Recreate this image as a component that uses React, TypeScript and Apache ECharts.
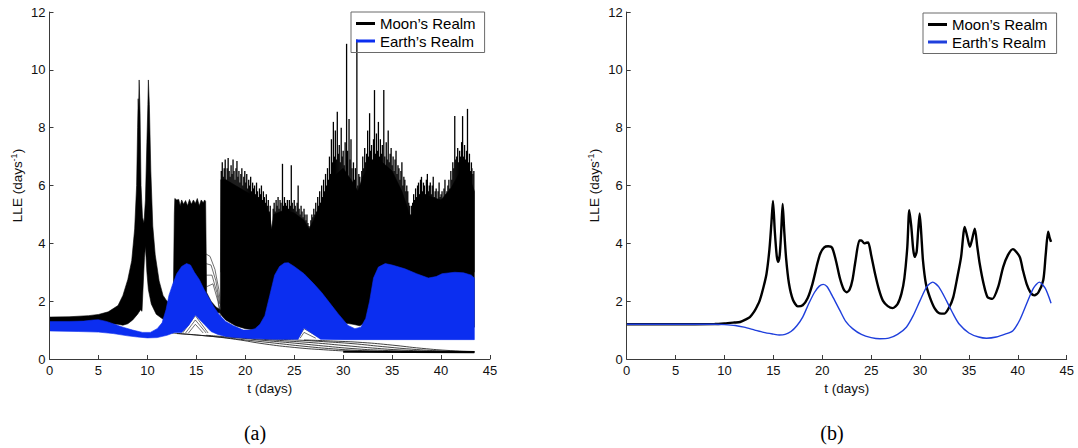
import React, { useEffect, useRef } from "react";
import * as echarts from "echarts";

// ---------- tick labels ----------
const xTicks = [0, 5, 10, 15, 20, 25, 30, 35, 40, 45];
const yTicks = [0, 2, 4, 6, 8, 10, 12];
const MOON = "Moon’s Realm";
const EARTH = "Earth’s Realm";

// ---------- panel (a): Moon's realm envelope of the bundle ----------
const moonUpperA: number[][] = [
  [0, 1.45], [2, 1.46], [4, 1.5], [5, 1.54], [6, 1.63], [7, 1.85], [7.5, 2.2], [8, 2.75], [8.4, 3.4], [8.7, 4.5],
  [8.9, 6.0], [9.0, 8.0], [9.06, 9.0], [9.1, 8.6], [9.16, 9.65], [9.25, 8.5], [9.35, 6.0], [9.5, 4.9], [9.65, 4.7],
  [9.8, 5.5], [9.95, 7.5], [10.05, 8.8], [10.1, 9.65], [10.2, 8.8], [10.35, 6.5], [10.55, 4.6], [10.8, 3.6],
  [11.2, 2.7], [11.6, 2.2], [12.0, 2.0], [12.4, 1.95], [12.65, 2.1], [12.75, 5.0], [12.8, 5.55], [13.0, 5.5],
  [13.2, 5.52], [13.35, 5.3], [13.5, 5.5], [13.7, 5.35], [13.9, 5.48], [14.1, 5.3], [14.3, 5.52], [14.5, 5.35],
  [14.7, 5.5], [14.9, 5.38], [15.1, 5.55], [15.3, 5.3], [15.5, 5.5], [15.7, 5.4], [15.85, 5.5], [15.95, 5.45],
  [16.05, 2.3], [16.5, 2.0], [17.0, 1.8], [17.45, 1.7], [17.5, 6.2], [18, 6.2], [19, 6.0], [20, 5.8], [21, 5.6],
  [22, 5.3], [22.5, 5.0], [22.7, 4.5], [22.9, 5.0], [24, 5.15], [25, 5.05], [26, 4.8], [26.5, 4.5], [27, 4.8],
  [28, 5.6], [29, 6.3], [30, 6.6], [31, 6.1], [31.5, 5.8], [32, 6.3], [33, 6.8], [34, 6.8], [35, 6.5], [36, 5.8],
  [36.9, 4.9], [37.2, 5.1], [38, 5.7], [39, 5.6], [40, 5.5], [41, 5.9], [42, 6.5], [43, 6.2], [43.4, 5.8],
];
const moonLowerA: number[][] = [
  [0, 1.2], [5, 1.22], [7, 1.2], [7.5, 1.17], [8, 1.22], [8.5, 1.35], [9.0, 1.55], [9.3, 1.7], [9.45, 1.65],
  [9.55, 2.4], [9.7, 3.5], [9.8, 3.9], [9.95, 3.0], [10.1, 2.4], [10.4, 1.9], [10.9, 1.55], [11.5, 1.4],
  [12, 1.3], [12.5, 1.2], [13.0, 1.2], [13.5, 1.5], [15.5, 1.6], [17.4, 1.6], [17.6, 1.5], [18, 1.35],
  [19, 1.15], [20, 1.05], [21, 1.0], [23, 1.0], [26, 1.1], [28, 1.3], [29, 1.35], [30, 1.25], [31, 1.2],
  [31.7, 1.15], [32.5, 1.3], [33.5, 1.2], [36, 1.1], [40, 1.1], [43.4, 1.1],
];
// single trajectories that shoot above the bundle: [t, peak LLE]
const moonSpikesA: number[][] = [
  [17.55, 6.5], [17.65, 6.8], [17.75, 6.3], [17.85, 6.6], [17.95, 6.9], [18.05, 6.2], [18.15, 6.6], [18.25, 6.95],
  [18.35, 6.5], [18.45, 6.3], [18.55, 6.7], [18.65, 6.4], [18.75, 6.9], [18.85, 6.5], [18.95, 6.2], [19.05, 6.6],
  [19.15, 6.85], [19.25, 6.3], [19.35, 6.5], [19.45, 6.1], [19.55, 6.4], [19.65, 6.6], [19.75, 6.0], [19.85, 6.3],
  [19.95, 6.5], [20.05, 6.1], [20.15, 6.4], [20.25, 5.9], [20.35, 6.2], [20.45, 6.0], [20.55, 6.3], [20.65, 5.8],
  [20.75, 6.1], [20.85, 5.9], [20.95, 6.0], [21.05, 5.7], [21.15, 6.1], [21.25, 5.8], [21.35, 5.6], [21.45, 5.9],
  [21.55, 5.7], [21.65, 6.0], [21.75, 5.5], [21.85, 5.8], [21.95, 5.6], [22.05, 5.4], [22.15, 5.7], [22.25, 5.3],
  [22.35, 5.5], [22.45, 5.1], [22.55, 5.3],
  [22.85, 5.2], [22.95, 5.4], [23.05, 5.1], [23.15, 5.5], [23.25, 5.3], [23.35, 5.6], [23.45, 5.2], [23.55, 5.5],
  [23.65, 5.4], [23.8, 6.75], [23.9, 5.3], [24.0, 5.6], [24.1, 5.4], [24.2, 5.3], [24.3, 5.5], [24.4, 5.2],
  [24.5, 5.5], [24.6, 5.3], [24.7, 6.7], [24.8, 5.4], [24.9, 5.2], [25.0, 5.5], [25.1, 5.3], [25.2, 5.1],
  [25.3, 5.4], [25.4, 6.0], [25.5, 5.2], [25.6, 5.0], [25.7, 5.3], [25.8, 5.1], [25.9, 4.9], [26.0, 5.2],
  [26.1, 5.0], [26.2, 4.8], [26.3, 5.0], [26.4, 4.7], [26.5, 4.6],
  [26.7, 4.8], [26.8, 5.0], [26.9, 4.9], [27.0, 5.2], [27.1, 5.0], [27.2, 5.4], [27.3, 5.1], [27.4, 5.6],
  [27.5, 5.3], [27.6, 5.8], [27.7, 5.4], [27.8, 6.0], [27.9, 5.6], [28.0, 6.2], [28.1, 5.8], [28.2, 6.4],
  [28.3, 6.0], [28.4, 6.6], [28.5, 6.2], [28.6, 7.0], [28.7, 6.4], [28.8, 7.6], [28.9, 6.8], [29.0, 8.2],
  [29.1, 7.0], [29.2, 7.9], [29.3, 6.9], [29.4, 8.55], [29.5, 7.1], [29.6, 7.4], [29.7, 6.8], [29.8, 8.0],
  [29.9, 7.0], [30.0, 7.2], [30.1, 6.7], [30.2, 7.5], [30.35, 10.9], [30.45, 7.2], [30.6, 8.3], [30.7, 6.9],
  [30.8, 7.6], [30.9, 6.6], [31.05, 6.8], [31.15, 6.2], [31.25, 6.6], [31.4, 11.05], [31.5, 6.0], [31.6, 6.4],
  [31.7, 6.3], [31.8, 5.9], [31.9, 6.5], [32.0, 7.0], [32.1, 6.6], [32.2, 7.3], [32.3, 6.8], [32.4, 7.1],
  [32.5, 7.9], [32.6, 7.0], [32.7, 8.5], [32.8, 7.2], [32.9, 7.4], [33.0, 6.9], [33.1, 7.6], [33.2, 9.3],
  [33.3, 7.1], [33.4, 7.8], [33.5, 7.2], [33.6, 8.2], [33.7, 7.0], [33.8, 7.6], [33.9, 7.1], [34.0, 7.4],
  [34.15, 9.3], [34.25, 7.0], [34.4, 7.5], [34.5, 6.9], [34.6, 7.9], [34.7, 6.8], [34.8, 7.1], [34.9, 7.3],
  [35.0, 6.7], [35.1, 7.0], [35.2, 6.5], [35.3, 6.9], [35.4, 7.2], [35.5, 6.4], [35.6, 6.7], [35.7, 6.6],
  [35.8, 6.2], [35.9, 6.5], [36.0, 6.8], [36.1, 6.0], [36.2, 6.3], [36.3, 6.2], [36.4, 5.8], [36.5, 6.0],
  [36.6, 5.8], [36.7, 5.4], [36.8, 5.3], [36.9, 5.0],
  [37.0, 5.3], [37.1, 5.4], [37.2, 5.7], [37.3, 5.5], [37.4, 5.9], [37.5, 5.6], [37.6, 6.0], [37.7, 6.1],
  [37.8, 5.7], [37.9, 6.2], [38.0, 6.3], [38.1, 5.8], [38.2, 6.1], [38.3, 6.0], [38.4, 5.7], [38.5, 6.2],
  [38.6, 6.4], [38.7, 5.8], [38.8, 6.0], [38.9, 6.1], [39.0, 5.7], [39.1, 6.0], [39.2, 6.3], [39.3, 5.6],
  [39.4, 5.8], [39.5, 5.9], [39.6, 5.5], [39.7, 5.8], [39.8, 6.1], [39.9, 5.6], [40.0, 5.7], [40.1, 5.8],
  [40.2, 5.4], [40.3, 5.9], [40.4, 6.2], [40.5, 5.7], [40.6, 5.8], [40.7, 6.0], [40.8, 6.2], [40.9, 5.9],
  [41.0, 6.5], [41.1, 6.2], [41.2, 6.8], [41.3, 6.6], [41.4, 8.4], [41.5, 6.9], [41.6, 7.0], [41.7, 7.3],
  [41.8, 6.8], [41.9, 7.2], [42.0, 7.0], [42.1, 7.5], [42.2, 8.4], [42.3, 7.0], [42.4, 7.4], [42.5, 6.9],
  [42.6, 7.2], [42.7, 8.65], [42.8, 6.8], [42.9, 7.1], [43.0, 6.5], [43.1, 6.8], [43.15, 6.6], [43.25, 6.4],
  [43.35, 6.5],
];
// decaying trajectories at the bottom
const tailA1 = [[12.5, 0.9], [16, 0.8], [19, 0.68], [22, 0.52], [25, 0.4], [28, 0.32], [31, 0.27], [35, 0.25], [43.4, 0.24]];
const tailA2 = [[13, 0.88], [17, 0.77], [20, 0.66], [23, 0.55], [26, 0.44], [29, 0.35], [32, 0.29], [36, 0.25], [43.4, 0.24]];
const tailA3 = [[16, 0.82], [19, 0.74], [22, 0.64], [25, 0.55], [28, 0.45], [31, 0.36], [34, 0.3], [38, 0.26], [43.4, 0.24]];
const tailA4 = [[18, 0.78], [21, 0.7], [24, 0.63], [27, 0.56], [30, 0.47], [33, 0.38], [36, 0.31], [40, 0.26], [43.4, 0.24]];
const tailA5 = [[22, 0.7], [25, 0.66], [28, 0.6], [31, 0.53], [34, 0.43], [37, 0.34], [40, 0.28], [43.4, 0.25]];
const tailA6 = [[26, 0.66], [29, 0.62], [32, 0.57], [35, 0.48], [38, 0.37], [41, 0.29], [43.4, 0.26]];
const tailA7 = [[30, 0.25], [43.4, 0.235]];
// mesh of thin trajectories (dome near t=16.5, tents near t=15 and t=26)
const meshA1 = [[15.9, 3.65], [16.4, 3.55], [16.9, 3.1], [17.3, 2.4], [17.5, 1.8]];
const meshA2 = [[15.95, 3.3], [16.5, 3.25], [17.0, 2.7], [17.4, 1.9]];
const meshA3 = [[16.0, 2.9], [16.6, 2.9], [17.1, 2.3], [17.45, 1.6]];
const meshA4 = [[16.05, 2.5], [16.7, 2.6], [17.2, 2.0], [17.5, 1.4]];
const meshA5 = [[13.6, 0.9], [14.9, 1.5], [16.2, 0.9]];
const meshA6 = [[13.9, 0.9], [14.9, 1.35], [16.0, 0.9]];
const meshA7 = [[14.2, 0.9], [14.9, 1.2], [15.7, 0.9]];
const meshA8 = [[25.4, 0.72], [26.0, 1.05], [27.7, 0.72]];
const meshA9 = [[25.6, 0.72], [26.0, 0.92], [27.2, 0.72]];

// ---------- panel (a): Earth's realm envelope ----------
const earthUpperA: number[][] = [
  [0, 1.3], [2, 1.3], [3.5, 1.31], [4.5, 1.35], [5, 1.36], [5.8, 1.3], [6.5, 1.22], [7.5, 1.1], [8.5, 1.0],
  [9.5, 0.92], [10.3, 0.92], [11, 1.05], [11.5, 1.25], [11.9, 1.7], [12.2, 2.2], [12.6, 2.6], [13.0, 2.95],
  [13.5, 3.2], [14.0, 3.3], [14.4, 3.25], [14.8, 3.0], [15.3, 2.75], [15.8, 2.4], [16.3, 2.1], [16.8, 1.8],
  [17.3, 1.55], [18, 1.3], [18.8, 1.15], [19.8, 1.0], [20.5, 1.0], [21, 1.05], [21.5, 1.2], [22, 1.5],
  [22.5, 2.2], [23, 2.9], [23.5, 3.2], [24, 3.32], [24.4, 3.33], [25, 3.2], [26, 2.95], [27, 2.6], [27.8, 2.3],
  [28.6, 1.95], [29.5, 1.56], [30.5, 1.16], [31.2, 1.05], [31.8, 1.1], [32.3, 1.4], [32.7, 2.0], [33.1, 2.8],
  [33.6, 3.18], [34.3, 3.3], [35, 3.25], [36.3, 3.12], [37.5, 2.95], [38.7, 2.8], [39.5, 2.85], [40.1, 2.95],
  [41.4, 3.0], [42.3, 2.98], [43.1, 2.9], [43.4, 2.8],
];
const earthLowerA: number[][] = [
  [0, 0.97], [3, 0.95], [5, 0.93], [6.5, 0.88], [8, 0.8], [9, 0.76], [10, 0.73], [11, 0.74], [12, 0.82],
  [12.8, 0.92], [13.5, 0.92], [14.2, 1.15], [14.9, 1.52], [15.8, 1.2], [16.5, 0.95], [17.2, 0.85], [18, 0.78],
  [19, 0.74], [20, 0.72], [21, 0.7], [23, 0.68], [25.4, 0.68], [26.0, 1.07], [27.7, 0.68], [30, 0.67],
  [35, 0.67], [40, 0.67], [43.4, 0.67],
];

// ---------- panel (b) ----------
const moonB: number[][] = [
  [0, 1.2], [5, 1.2], [9, 1.21], [10, 1.23], [11, 1.26], [11.6, 1.28], [12.2, 1.37], [12.6, 1.45], [13.0, 1.62],
  [13.3, 1.8], [13.6, 2.02], [14.0, 2.5], [14.3, 2.95], [14.6, 3.8], [14.8, 4.7], [14.96, 5.47], [15.15, 4.4],
  [15.35, 3.55], [15.5, 3.36], [15.65, 3.6], [15.8, 4.4], [15.95, 5.36], [16.1, 4.5], [16.3, 3.5], [16.6, 2.6],
  [17.0, 2.05], [17.5, 1.82], [18.0, 1.86], [18.5, 2.1], [19.0, 2.6], [19.5, 3.3], [19.8, 3.65], [20.2, 3.86],
  [20.6, 3.9], [21.0, 3.85], [21.4, 3.4], [21.8, 2.8], [22.2, 2.4], [22.5, 2.31], [22.8, 2.4], [23.1, 2.75],
  [23.4, 3.4], [23.8, 4.1], [24.0, 4.1], [24.3, 4.0], [24.5, 4.02], [24.7, 4.03], [25.0, 3.6], [25.4, 2.95],
  [25.8, 2.4], [26.2, 2.02], [26.7, 1.83], [27.2, 1.76], [27.7, 1.9], [28.1, 2.26], [28.4, 2.8], [28.7, 3.88],
  [28.9, 5.15], [29.1, 4.6], [29.3, 3.8], [29.45, 3.53], [29.65, 3.7], [29.8, 4.4], [29.96, 5.03], [30.15, 4.2],
  [30.3, 3.41], [30.6, 2.6], [31.0, 2.14], [31.5, 1.75], [32.0, 1.58], [32.5, 1.57], [33.0, 1.8], [33.4, 2.14],
  [33.8, 2.8], [34.2, 3.53], [34.57, 4.57], [34.85, 4.2], [35.1, 3.88], [35.3, 4.1], [35.6, 4.51], [35.85, 3.9],
  [36.1, 3.3], [36.5, 2.6], [36.9, 2.14], [37.4, 2.08], [38.0, 2.5], [38.5, 3.18], [39.0, 3.6], [39.5, 3.8],
  [40.2, 3.53], [40.5, 3.1], [40.9, 2.6], [41.3, 2.3], [41.7, 2.2], [42.1, 2.3], [42.6, 2.72], [42.85, 3.6],
  [43.1, 4.4], [43.25, 4.2], [43.4, 4.05],
];
const earthB: number[][] = [
  [0, 1.2], [5, 1.2], [9, 1.2], [10, 1.19], [11.1, 1.16], [12, 1.1], [13.1, 1.0], [14, 0.92], [15, 0.86],
  [15.6, 0.83], [16.2, 0.85], [16.8, 0.95], [17.4, 1.15], [18, 1.45], [18.6, 1.9], [19.2, 2.3], [19.7, 2.52],
  [20.1, 2.58], [20.5, 2.5], [21.0, 2.2], [21.8, 1.68], [22.4, 1.3], [23.1, 1.05], [24, 0.85], [25, 0.74],
  [25.9, 0.7], [26.8, 0.72], [27.7, 0.85], [28.6, 1.1], [29.3, 1.5], [30.0, 2.02], [30.7, 2.5], [31.3, 2.66],
  [31.9, 2.5], [32.7, 2.02], [33.4, 1.55], [34.0, 1.21], [35, 0.9], [36, 0.76], [36.8, 0.72], [37.8, 0.76],
  [38.7, 0.86], [39.5, 0.98], [40.2, 1.35], [40.9, 1.91], [41.6, 2.45], [42.2, 2.66], [42.8, 2.45], [43.4, 1.93],
];

const BLACK = "#000000";
const BLUE_A = "#0b2ef0";
const BLUE_B = "#1f3fdc";
const FONT = "Liberation Sans";
const SPIKE_BASE = 3;

function band(name: string, upper: number[][], lower: number[][], color: string, idx: number, z: number) {
  return {
    type: "custom",
    name,
    xAxisIndex: idx,
    yAxisIndex: idx,
    z,
    silent: true,
    itemStyle: { color },
    data: [upper[0]],
    renderItem: (_p: any, api: any) => {
      const pts = upper.map((p) => api.coord(p)).concat(lower.slice().reverse().map((p) => api.coord(p)));
      return { type: "polygon", shape: { points: pts }, style: { fill: color, stroke: color, lineWidth: 0.6 } };
    },
  };
}

function thinLine(name: string, data: number[][], color: string, width: number, idx: number, z: number, smooth: any) {
  return {
    type: "line",
    name,
    xAxisIndex: idx,
    yAxisIndex: idx,
    data,
    z,
    smooth,
    silent: true,
    showSymbol: false,
    symbol: "none",
    itemStyle: { color },
    lineStyle: { color, width },
  };
}

function axes(idx: number) {
  const common = {
    gridIndex: idx,
    type: "value",
    z: 10,
    splitLine: { show: false },
    axisLine: { show: true, onZero: false, lineStyle: { color: "#3a3a3a", width: 1 } },
    axisTick: { show: true, inside: true, length: 4, lineStyle: { color: "#3a3a3a" } },
    nameLocation: "middle",
  };
  const x = {
    ...common,
    min: xTicks[0],
    max: xTicks[xTicks.length - 1],
    interval: 5,
    axisLabel: { margin: 5, fontSize: 13, color: "#111", fontFamily: FONT },
    name: "t (days)",
    nameGap: 21,
    nameTextStyle: { fontSize: 13.5, color: "#111", fontFamily: FONT },
  };
  const y = {
    ...common,
    min: yTicks[0],
    max: yTicks[yTicks.length - 1],
    interval: 2,
    axisLabel: { margin: 4, fontSize: 13, color: "#111", fontFamily: FONT },
    name: "LLE (days{sup|-1})",
    nameGap: 24,
    nameTextStyle: {
      fontSize: 13.5,
      color: "#111",
      fontFamily: FONT,
      lineHeight: 16,
      rich: { sup: { fontSize: 9, fontFamily: FONT, color: "#111", verticalAlign: "top", lineHeight: 9 } },
    },
  };
  return { x, y };
}

function legend(left: number, top: number, earthColor: string) {
  return {
    orient: "vertical",
    left,
    top,
    selectedMode: false,
    padding: [4, 9, 4, 5],
    itemGap: 2.5,
    itemWidth: 19,
    itemHeight: 3,
    borderColor: "#6a6a6a",
    borderWidth: 1,
    borderRadius: 0,
    textStyle: { fontSize: 15, color: "#000", fontFamily: FONT, lineHeight: 15 },
    data: [
      { name: MOON, icon: "rect", itemStyle: { color: BLACK } },
      { name: EARTH, icon: "rect", itemStyle: { color: earthColor } },
    ],
  };
}

export default function App() {
  const ref = useRef<HTMLDivElement>(null);
  useEffect(() => {
    if (!ref.current) return;
    const chart = echarts.init(ref.current, null, { renderer: "svg" });
    const a = axes(0);
    const b = axes(1);
    const tails = [tailA1, tailA2, tailA3, tailA4, tailA5, tailA6];
    const meshes = [meshA1, meshA2, meshA3, meshA4, meshA5, meshA6, meshA7, meshA8, meshA9];
    const series: any[] = [
      band(MOON, moonUpperA, moonLowerA, BLACK, 0, 2),
      {
        type: "custom",
        name: MOON,
        xAxisIndex: 0,
        yAxisIndex: 0,
        z: 2,
        silent: true,
        itemStyle: { color: BLACK },
        data: moonSpikesA,
        renderItem: (_p: any, api: any) => {
          const t = api.value(0);
          const p1 = api.coord([t, SPIKE_BASE]);
          const p2 = api.coord([t, api.value(1)]);
          return {
            type: "line",
            shape: { x1: p1[0], y1: p1[1], x2: p2[0], y2: p2[1] },
            style: { stroke: "#000", lineWidth: 1.3 },
          };
        },
      },
      ...meshes.map((m) => thinLine(MOON, m, "#111", 0.6, 0, 3, false)),
      ...tails.map((m) => thinLine(MOON, m, "#111", 0.8, 0, 3, true)),
      thinLine(MOON, tailA7, BLACK, 2.2, 0, 3, false),
      band(EARTH, earthUpperA, earthLowerA, BLUE_A, 0, 5),
      thinLine(MOON, moonB, BLACK, 2.4, 1, 2, 0.25),
      thinLine(EARTH, earthB, BLUE_B, 1.4, 1, 3, 0.25),
    ];
    chart.setOption({
      animation: false,
      backgroundColor: "#ffffff",
      grid: [
        { left: 49.5, top: 12, width: 440.5, height: 347 },
        { left: 626.7, top: 12, width: 440, height: 347 },
      ],
      xAxis: [a.x, b.x],
      yAxis: [a.y, b.y],
      legend: [legend(351, 12, BLUE_A), legend(923, 13, BLUE_B)],
      series,
      graphic: [
        { type: "text", x: 255, y: 433, style: { text: "(a)", font: '20px "Liberation Serif"', fill: "#000", align: "center", verticalAlign: "middle" } },
        { type: "text", x: 832, y: 433, style: { text: "(b)", font: '20px "Liberation Serif"', fill: "#000", align: "center", verticalAlign: "middle" } },
      ],
    });
    return () => chart.dispose();
  }, []);
  return <div ref={ref} style={{ position: "absolute", left: 0, top: 0, width: 1078, height: 448, background: "#fff" }} />;
}
